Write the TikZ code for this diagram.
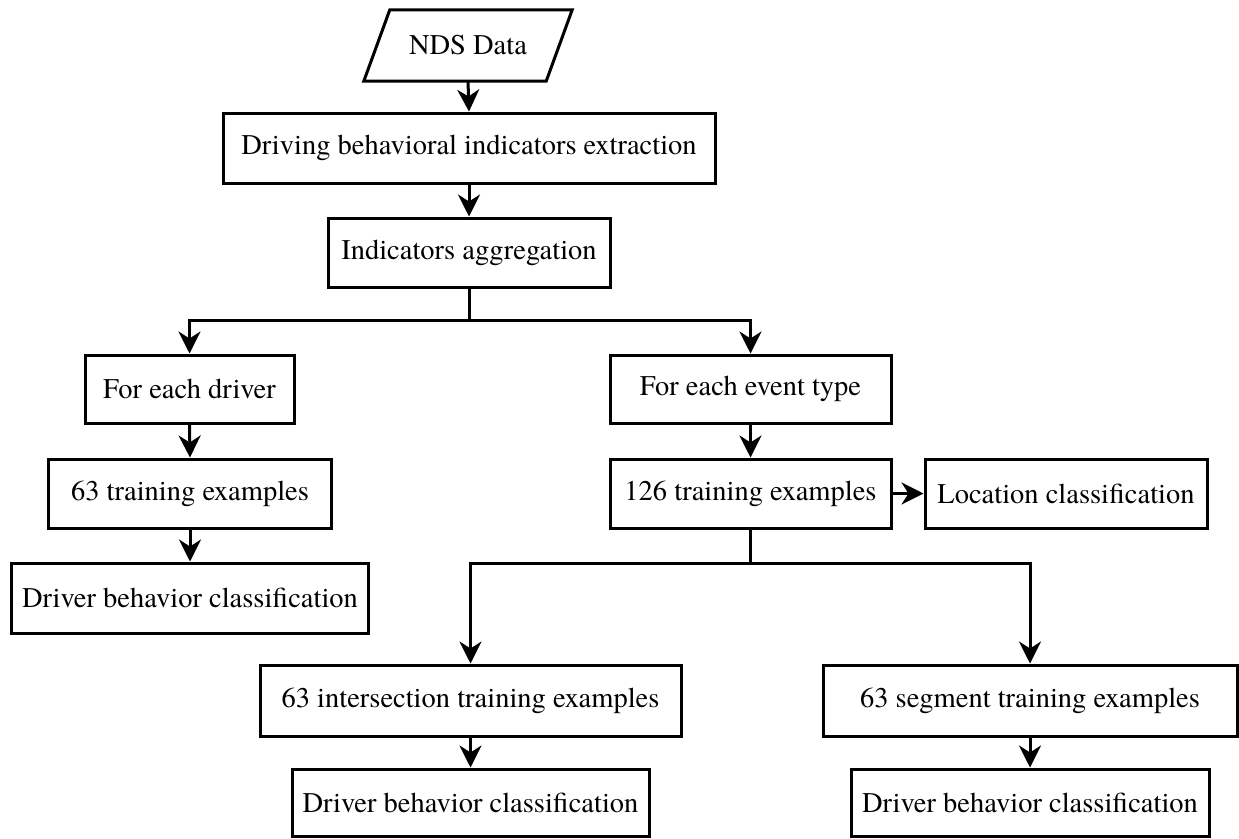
\documentclass[tikz,border=0pt]{standalone}
\usepackage{fontspec}
\IfFontExistsTF{texgyretermes-regular.otf}
  {\setmainfont{texgyretermes-regular.otf}}
  {\setmainfont{Liberation Serif}}
\usetikzlibrary{arrows.meta,calc}
\begin{document}
\begin{tikzpicture}[x=1pt,y=-1pt,
  every node/.style={font=\rmfamily\fontsize{28.5}{34}\selectfont, inner sep=0pt, align=center},
  box/.style={draw, line width=3pt, rectangle, minimum height=70pt},
  conn/.style={line width=3pt},
  arr/.style={conn, -{Stealth[length=22pt,width=22pt,inset=7pt]}}]
\useasboundingbox (0,0) rectangle (1239,838);
% nodes
\node[minimum width=182pt, minimum height=71pt] (nds) at (468,45.5) {NDS Data};
\draw[line width=3pt, line join=miter]
  ($(nds.north west)+(13,0)$) -- ($(nds.north east)+(13,0)$) --
  ($(nds.south east)+(-13,0)$) -- ($(nds.south west)+(-13,0)$) -- cycle;
\node[box, minimum width=492pt] (ext) at (469,148) {Driving behavioral indicators extraction};
\node[box, minimum width=282pt, minimum height=69pt] (agg) at (469,252.5) {Indicators aggregation};
\node[box, minimum width=209pt, minimum height=68pt] (drv) at (189.5,389) {For each driver};
\node[box, minimum width=281pt, minimum height=68pt] (evt) at (750.5,389) {For each event type};
\node[box, minimum width=283pt, minimum height=69pt] (t63) at (190,493.5) {63 training examples};
\node[box, minimum width=357pt] (dbc1) at (190,598) {Driver behavior classification};
\node[box, minimum width=281pt, minimum height=69pt] (t126) at (750.5,493.5) {126 training examples};
\node[box, minimum width=282pt, minimum height=69pt] (loc) at (1066,493.5) {Location classification};
\node[box, minimum width=421pt, minimum height=71pt] (inter) at (470.5,700.5) {63 intersection training examples};
\node[box, minimum width=414pt, minimum height=71pt] (seg) at (1030,700.5) {63 segment training examples};
\node[box, minimum width=357pt, minimum height=67pt] (dbc2) at (470.5,802.5) {Driver behavior classification};
\node[box, minimum width=358pt, minimum height=67pt] (dbc3) at (1030,802.5) {Driver behavior classification};
\coordinate (j1) at (469,320);
\coordinate (j2) at (750.5,563);
% connectors
\draw[arr] (nds.south) -- (ext.north);
\draw[arr] (ext.south) -- (agg.north);
\draw[conn] (agg.south) -- (j1);
\draw[arr] (j1) -| (drv.north);
\draw[arr] (j1) -| (evt.north);
\draw[arr] (drv.south) -- (t63.north);
\draw[arr] (t63.south) -- (dbc1.north);
\draw[arr] (evt.south) -- (t126.north);
\draw[arr] (t126.east) -- (loc.west);
\draw[conn] (t126.south) -- (j2);
\draw[arr] (j2) -| (inter.north);
\draw[arr] (j2) -| (seg.north);
\draw[arr] (inter.south) -- (dbc2.north);
\draw[arr] (seg.south) -- (dbc3.north);
\end{tikzpicture}
\end{document}
